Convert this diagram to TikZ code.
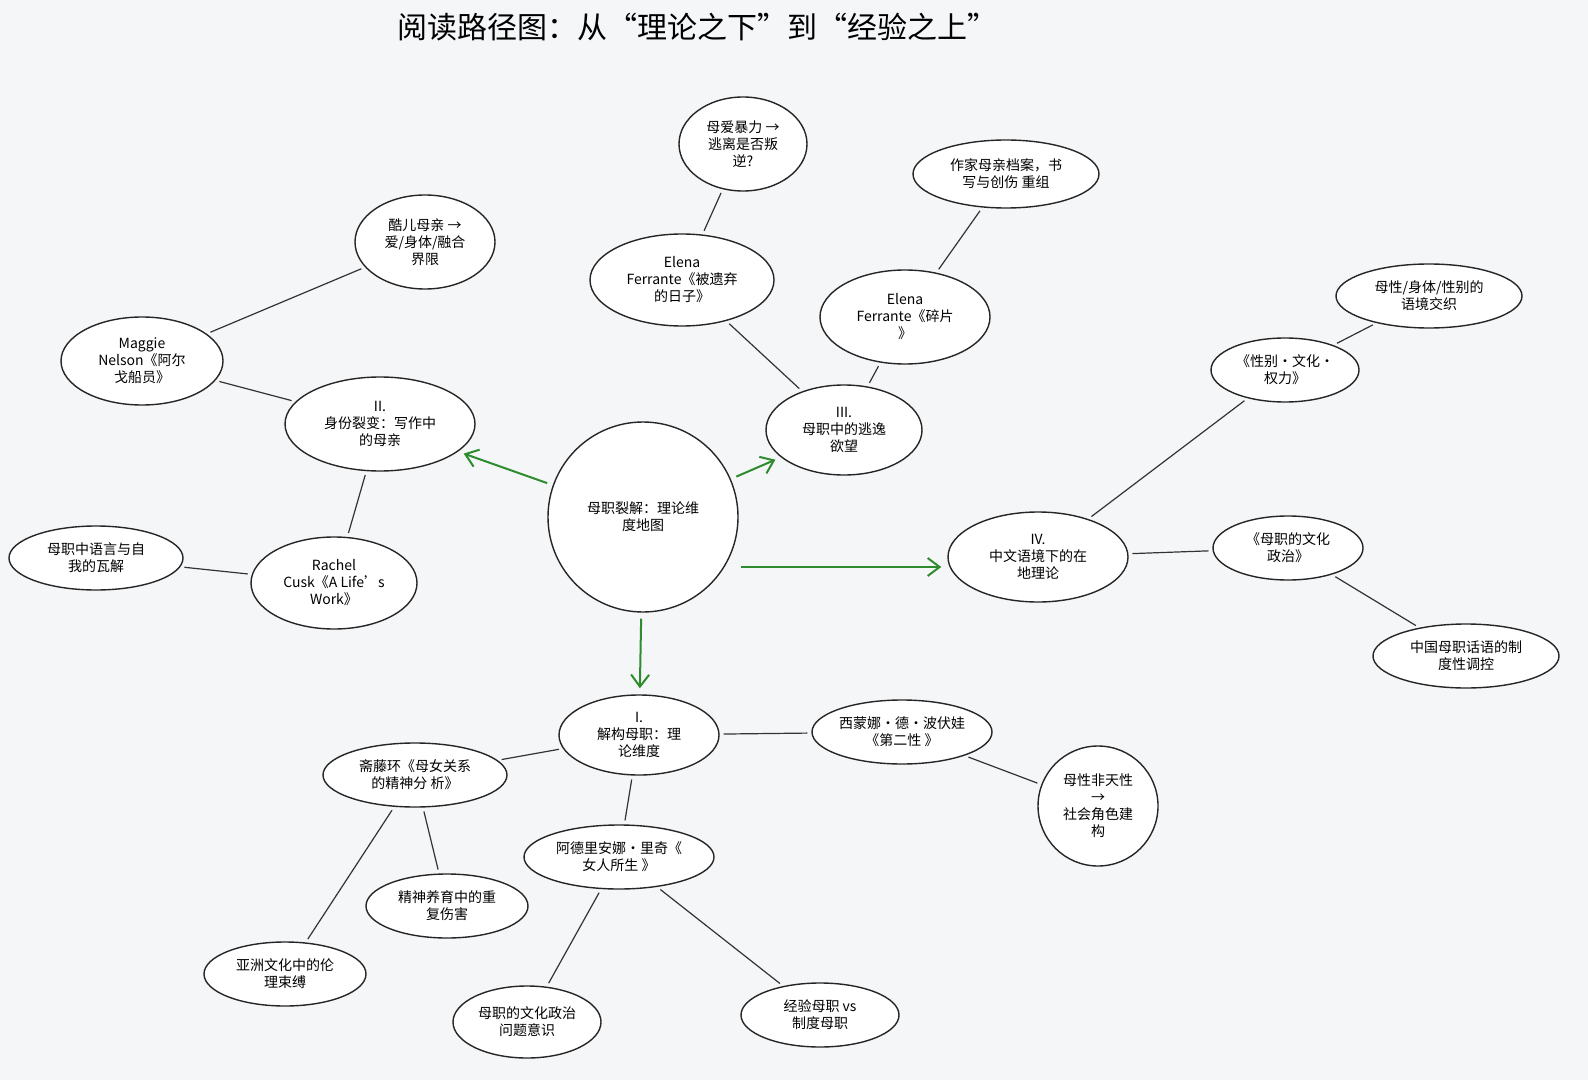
\documentclass[tikz,border=0pt]{standalone}
\usepackage{fontspec}
\setmainfont{Noto Sans CJK SC}
\usetikzlibrary{shapes.geometric,arrows.meta}
\definecolor{bg}{HTML}{F5F6F8}
\definecolor{grn}{HTML}{2E8B2E}
\tikzset{
 el/.style={ellipse,draw=black!85,line width=0.7pt,fill=white,inner sep=0pt,align=center,font=\fontsize{7}{8.5}\selectfont},
 ln/.style={draw=black!80,line width=0.6pt,shorten >=2pt,shorten <=2pt},
 ga/.style={draw=grn,line width=1pt,-{Straight Barb[length=6pt,width=9pt]},shorten >=3pt,shorten <=3pt}
}
\begin{document}
\begin{tikzpicture}[x=0.5pt,y=-0.5pt]
\fill[bg] (0,0) rectangle (1588,1080);
\useasboundingbox (0,0) rectangle (1588,1080);
\node[font=\fontsize{15}{18}\selectfont] (title) at (697,27) {阅读路径图：从“理论之下”到“经验之上”};
\node[el,circle,minimum size=95pt] (c) at (643,517) {母职裂解：理论维\\度地图};
\node[el,minimum width=80pt,minimum height=40pt] (i) at (639,735) {\textit{I.}\\解构母职：理\\论维度};
\node[el,minimum width=95pt,minimum height=47pt] (ii) at (380,424) {\textit{II.}\\身份裂变：写作中\\的母亲};
\node[el,minimum width=78pt,minimum height=45pt] (iii) at (844,430) {\textit{III.}\\母职中的逃逸\\欲望};
\node[el,minimum width=90pt,minimum height=45pt] (iv) at (1038,557) {\textit{IV.}\\中文语境下的在\\地理论};
\node[el,minimum width=90pt,minimum height=32pt] (xm) at (902,732) {西蒙娜·德·波伏娃\\《第二性 》};
\node[el,minimum width=60pt,minimum height=60pt] (mx) at (1098,806) {母性非天性\\→\\社会角色建\\构};
\node[el,minimum width=95pt,minimum height=32pt] (ad) at (619,857) {阿德里安娜·里奇《\\女人所生 》};
\node[el,minimum width=92pt,minimum height=32pt] (zt) at (415,775) {斋藤环《母女关系\\的精神分 析》};
\node[el,minimum width=81pt,minimum height=32pt] (js) at (447,906) {精神养育中的重\\复伤害};
\node[el,minimum width=81pt,minimum height=32pt] (yz) at (285,974) {亚洲文化中的伦\\理束缚};
\node[el,minimum width=74pt,minimum height=36pt] (wt) at (527,1022) {母职的文化政治\\问题意识};
\node[el,minimum width=79pt,minimum height=32pt] (jy) at (820,1015) {经验母职 vs\\制度母职};
\node[el,minimum width=81pt,minimum height=44pt] (mg) at (142,361) {\textit{Maggie}\\\textit{Nelson}《阿尔\\戈船员》};
\node[el,minimum width=70pt,minimum height=47pt] (ke) at (425,242) {酷儿母亲 →\\爱/身体/融合\\界限};
\node[el,minimum width=83pt,minimum height=46pt] (rc) at (334,583) {\textit{Rachel}\\\textit{Cusk}《\textit{A Life's}\\\textit{Work}》};
\node[el,minimum width=87pt,minimum height=32pt] (yy) at (96,558) {母职中语言与自\\我的瓦解};
\node[el,minimum width=92pt,minimum height=46pt] (e1) at (682,280) {\textit{Elena}\\\textit{Ferrante}《被遗弃\\的日子》};
\node[el,minimum width=64pt,minimum height=47pt] (ma) at (743,144) {母爱暴力 →\\逃离是否叛\\逆?};
\node[el,minimum width=85pt,minimum height=47pt] (e2) at (905,317) {\textit{Elena}\\\textit{Ferrante}《碎片\\》};
\node[el,minimum width=93pt,minimum height=34pt] (zj) at (1006,174) {作家母亲档案，书\\写与创伤 重组};
\node[el,minimum width=74pt,minimum height=32pt] (xb) at (1285,370) {《性别·文化·\\权力》};
\node[el,minimum width=93pt,minimum height=32pt] (mt) at (1429,296) {母性/身体/性别的\\语境交织};
\node[el,minimum width=75pt,minimum height=32pt] (wz) at (1288,548) {《母职的文化\\政治》};
\node[el,minimum width=93pt,minimum height=32pt] (zg) at (1466,656) {中国母职话语的制\\度性调控};
\coordinate (cs) at (735,567);
\draw[ga] (c) -- (i);
\draw[ga] (c) -- (ii);
\draw[ga] (c) -- (iii);
\draw[ga] (cs) -- (iv.west |- cs);
\draw[ln] (ii) -- (mg); \draw[ln] (mg) -- (ke);
\draw[ln] (ii) -- (rc); \draw[ln] (rc) -- (yy);
\draw[ln] (iii) -- (e1); \draw[ln] (e1) -- (ma);
\draw[ln] (iii) -- (e2); \draw[ln] (e2) -- (zj);
\draw[ln] (iv) -- (xb); \draw[ln] (xb) -- (mt);
\draw[ln] (iv) -- (wz); \draw[ln] (wz) -- (zg);
\draw[ln] (i) -- (xm); \draw[ln] (xm) -- (mx);
\draw[ln] (i) -- (ad); \draw[ln] (i) -- (zt);
\draw[ln] (zt) -- (js); \draw[ln] (zt) -- (yz);
\draw[ln] (ad) -- (wt); \draw[ln] (ad) -- (jy);
\end{tikzpicture}
\end{document}
